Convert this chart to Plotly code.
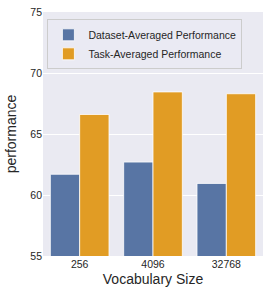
import plotly.graph_objects as go

categories = ["256", "4096", "32768"]
dataset_avg = [61.7, 62.7, 60.95]
task_avg = [66.6, 68.45, 68.3]
series_names = ["Dataset-Averaged Performance", "Task-Averaged Performance"]
y_ticks = [55, 60, 65, 70, 75]

fig = go.Figure()
fig.add_trace(go.Bar(x=categories, y=dataset_avg, name=series_names[0],
                     marker=dict(color="#5875a4", line=dict(color="white", width=0.8))))
fig.add_trace(go.Bar(x=categories, y=task_avg, name=series_names[1],
                     marker=dict(color="#e19c24", line=dict(color="white", width=0.8))))

fig.update_layout(
    width=273, height=297,
    margin=dict(l=43, r=10, t=12, b=41),
    paper_bgcolor="white", plot_bgcolor="#eaeaf2",
    font=dict(family="Liberation Sans, Arial, sans-serif", color="#262626", size=11),
    barmode="group", bargap=0.2, bargroupgap=0.0,
    showlegend=True,
    legend=dict(x=0.02, y=0.97, xanchor="left", yanchor="top",
                bgcolor="rgba(234,234,242,0.8)", bordercolor="#cccccc", borderwidth=1,
                font=dict(size=10.5), itemwidth=30, tracegroupgap=0),
    xaxis=dict(title=dict(text="Vocabulary Size", font=dict(size=14), standoff=5),
               showgrid=False, ticks="", tickfont=dict(size=10.5), zeroline=False,
               automargin=False),
    yaxis=dict(title=dict(text="performance", font=dict(size=14), standoff=10),
               range=[55, 75], tickvals=y_ticks, gridcolor="white", gridwidth=1,
               ticks="", tickfont=dict(size=10.5), zeroline=False, automargin=False),
)

fig.write_html("out.html", config={"displayModeBar": False},
               post_script="document.body.style.margin='0';")
